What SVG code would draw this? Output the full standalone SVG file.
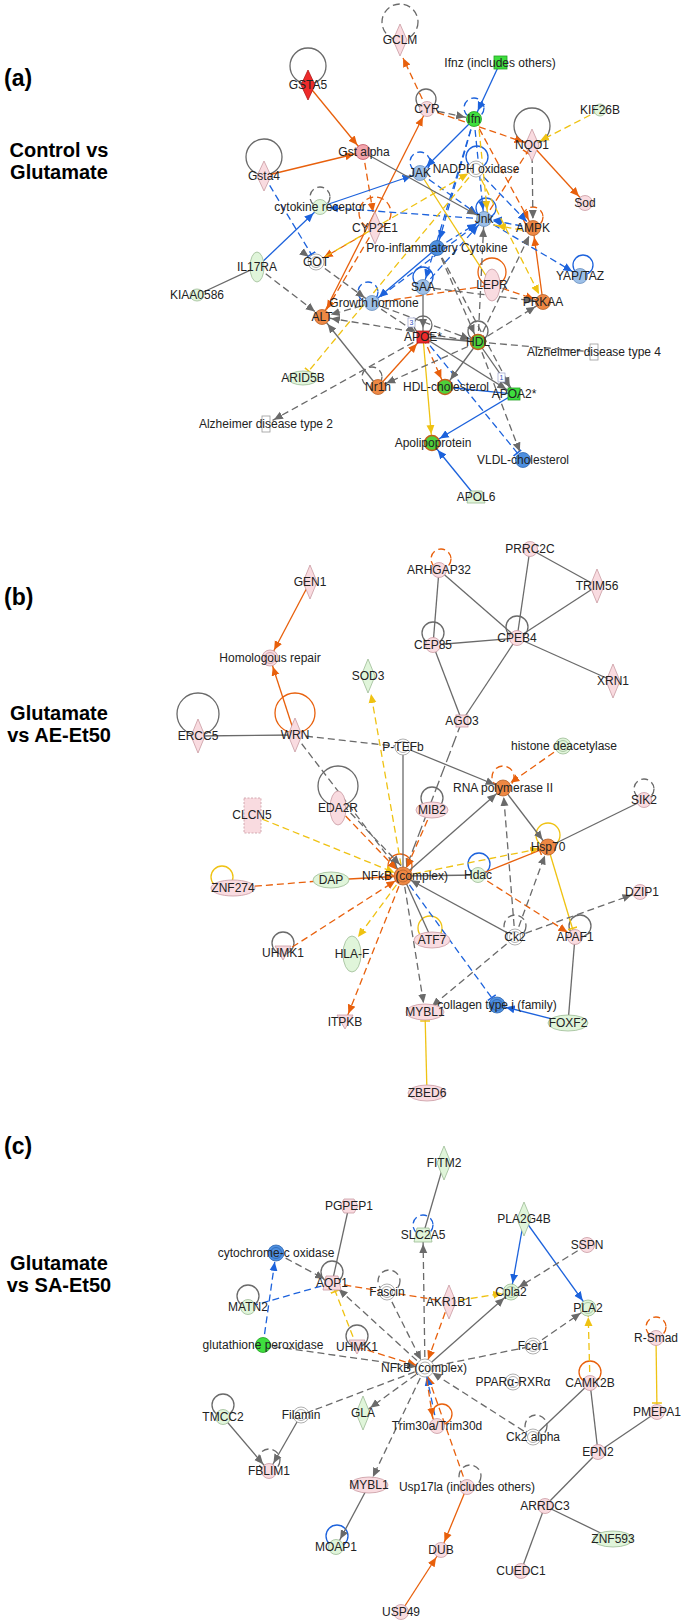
<svg xmlns="http://www.w3.org/2000/svg" width="685" height="1623" viewBox="0 0 685 1623">
<style>
.bg{fill:#fff}
#connectors path,#connectors circle{fill:none;stroke-width:1.3}
.g{stroke:#6a6a6a}.o{stroke:#e8600c}.b{stroke:#1c62dc}.y{stroke:#efc212}
.d{stroke-dasharray:7 4}
.pk{fill:#f9dbe0;stroke:#c99aa2;stroke-width:0.8}
.lg{fill:#e0f5da;stroke:#9dbb95;stroke-width:0.8}
.wh{fill:#fff;stroke:#9a9a9a;stroke-width:0.8}
.rd{fill:#ee2b2b;stroke:#b01818;stroke-width:0.8}
.gn{fill:#3ede3e;stroke:#22a022;stroke-width:0.8}
.org{fill:#ee8844;stroke:#b8622a;stroke-width:0.8}
.bu{fill:#4d8fe0;stroke:#2e66b0;stroke-width:0.8}
.lb{fill:#9dc0e8;stroke:#6a8fbf;stroke-width:0.8}
.go{fill:#4fd03a;stroke:#c0601c;stroke-width:1.6}
.gap{fill:#f2a4ac;stroke:#c05060;stroke-width:0.8}
.t{font-family:"Liberation Sans",Arial,sans-serif;font-size:12px;text-anchor:middle;fill:#222}
.h{font-family:"Liberation Sans",Arial,sans-serif;font-weight:bold;fill:#000}
.sm{font-family:"Liberation Sans",Arial,sans-serif;font-size:7px;fill:#3050c0;text-anchor:middle}
</style>
<defs>
<marker id="ag" viewBox="0 0 20 10" refX="18" refY="5" markerWidth="20" markerHeight="10" orient="auto" markerUnits="userSpaceOnUse"><path d="M0,1 L9,5 L0,9z" fill="#6a6a6a"/></marker>
<marker id="ao" viewBox="0 0 20 10" refX="18" refY="5" markerWidth="20" markerHeight="10" orient="auto" markerUnits="userSpaceOnUse"><path d="M0,1 L9,5 L0,9z" fill="#e8600c"/></marker>
<marker id="ab" viewBox="0 0 20 10" refX="18" refY="5" markerWidth="20" markerHeight="10" orient="auto" markerUnits="userSpaceOnUse"><path d="M0,1 L9,5 L0,9z" fill="#1c62dc"/></marker>
<marker id="ay" viewBox="0 0 20 10" refX="18" refY="5" markerWidth="20" markerHeight="10" orient="auto" markerUnits="userSpaceOnUse"><path d="M0,1 L9,5 L0,9z" fill="#efc212"/></marker>
<marker id="ag0" viewBox="0 0 10 10" refX="9" refY="5" markerWidth="10" markerHeight="10" orient="auto" markerUnits="userSpaceOnUse"><path d="M0,1 L9,5 L0,9z" fill="#6a6a6a"/></marker>
<marker id="ao0" viewBox="0 0 10 10" refX="9" refY="5" markerWidth="10" markerHeight="10" orient="auto" markerUnits="userSpaceOnUse"><path d="M0,1 L9,5 L0,9z" fill="#e8600c"/></marker>
<marker id="ay0" viewBox="0 0 10 10" refX="9" refY="5" markerWidth="10" markerHeight="10" orient="auto" markerUnits="userSpaceOnUse"><path d="M0,1 L9,5 L0,9z" fill="#efc212"/></marker>
<marker id="bb" viewBox="0 0 20 10" refX="18" refY="5" markerWidth="20" markerHeight="10" orient="auto" markerUnits="userSpaceOnUse"><path d="M9,0 L9,10" stroke="#1c62dc" stroke-width="1.5"/></marker>
<marker id="bo" viewBox="0 0 20 10" refX="18" refY="5" markerWidth="20" markerHeight="10" orient="auto" markerUnits="userSpaceOnUse"><path d="M9,0 L9,10" stroke="#e8600c" stroke-width="1.5"/></marker>
<marker id="by" viewBox="0 0 20 10" refX="18" refY="5" markerWidth="20" markerHeight="10" orient="auto" markerUnits="userSpaceOnUse"><path d="M9,0 L9,10" stroke="#efc212" stroke-width="1.5"/></marker>
</defs>
<rect class="bg" x="0" y="0" width="685" height="1623"/>

<g id="panel-labels">
<text class="h" x="4" y="86" font-size="23">(a)</text>
<text class="h" x="59" y="157" font-size="20" text-anchor="middle">Control vs</text>
<text class="h" x="59" y="179" font-size="20" text-anchor="middle">Glutamate</text>
<text class="h" x="4" y="605" font-size="23">(b)</text>
<text class="h" x="59" y="720" font-size="20" text-anchor="middle">Glutamate</text>
<text class="h" x="59" y="742" font-size="20" text-anchor="middle">vs AE-Et50</text>
<text class="h" x="4" y="1154" font-size="23">(c)</text>
<text class="h" x="59" y="1270" font-size="20" text-anchor="middle">Glutamate</text>
<text class="h" x="59" y="1292" font-size="20" text-anchor="middle">vs SA-Et50</text>
</g>

<g id="connectors">
<circle cx="308" cy="66" r="18" class="g"/>
<circle cx="264" cy="157" r="18" class="g"/>
<circle cx="320" cy="197" r="10" class="g d"/>
<circle cx="375" cy="213" r="16" class="o d"/>
<circle cx="400" cy="22" r="18" class="g d"/>
<circle cx="426" cy="99" r="10" class="g"/>
<circle cx="474" cy="108" r="10" class="b d"/>
<circle cx="532" cy="126" r="18" class="g"/>
<circle cx="420" cy="162" r="10" class="b d"/>
<circle cx="477" cy="157" r="11" class="b"/>
<circle cx="486" cy="208" r="10" class="b"/>
<circle cx="533" cy="217" r="10" class="o d"/>
<circle cx="583" cy="265" r="10" class="b"/>
<circle cx="368" cy="292" r="10" class="b d"/>
<circle cx="423" cy="277" r="10" class="b"/>
<circle cx="492" cy="272" r="14" class="o"/>
<circle cx="478" cy="331" r="10" class="g"/>
<circle cx="372" cy="377" r="10" class="g d"/>
<circle cx="423" cy="325" r="9" class="g"/>
<path class="o" d="M308,85 L363,152" marker-end="url(#ao)"/>
<path class="o" d="M264,176 L363,152" marker-end="url(#ao)"/>
<path class="o" d="M322,317 L427,109" marker-end="url(#ao)"/>
<path class="o" d="M532,145 L585,203" marker-end="url(#ao)"/>
<path class="o" d="M543,302 L533,228" marker-end="url(#ao)"/>
<path class="o" d="M378,387 L423,337" marker-end="url(#ao)"/>
<path class="o d" d="M427,109 L403,58" marker-end="url(#ao0)"/>
<path class="o d" d="M427,109 L532,145" marker-end="url(#ao)"/>
<path class="o d" d="M474,119 L533,228" marker-end="url(#ao)"/>
<path class="o d" d="M363,152 L373,212" marker-end="url(#ao0)"/>
<path class="o d" d="M375,228 L316,262" marker-end="url(#ao)"/>
<path class="o d" d="M375,228 L322,317" marker-end="url(#ao)"/>
<path class="o d" d="M372,303 L492,285"/>
<path class="o d" d="M492,285 L543,302" marker-end="url(#ao)"/>
<path class="o d" d="M423,337 L445,387" marker-end="url(#ao)"/>
<path class="o d" d="M484,219 L532,145" marker-end="url(#bo)"/>
<path class="b" d="M500,63 L474,119" marker-end="url(#ab)"/>
<path class="b" d="M474,119 L420,173" marker-end="url(#ab)"/>
<path class="b" d="M320,207 L420,173" marker-end="url(#ab)"/>
<path class="b" d="M257,267 L320,207" marker-end="url(#ab)"/>
<path class="b" d="M514,394 L432,443" marker-end="url(#ab)"/>
<path class="b" d="M476,497 L432,443" marker-end="url(#ab)"/>
<path class="b" d="M514,394 L445,387"/>
<path class="b" d="M437,248 L372,303" marker-end="url(#ab)"/>
<path class="b d" d="M264,176 L316,262" marker-end="url(#bb)"/>
<path class="b d" d="M484,219 L320,207" marker-end="url(#ab)" marker-start="url(#ab)"/>
<path class="b d" d="M474,119 L484,219" marker-end="url(#ab)"/>
<path class="b d" d="M474,119 L437,248" marker-end="url(#ab)"/>
<path class="b d" d="M474,119 L423,287" marker-end="url(#ab)"/>
<path class="b d" d="M420,173 L484,219" marker-end="url(#ab)"/>
<path class="b d" d="M476,169 L533,228" marker-end="url(#ab)"/>
<path class="b d" d="M484,219 L580,276" marker-end="url(#ab)"/>
<path class="b d" d="M533,228 L484,219" marker-end="url(#ab)"/>
<path class="b d" d="M423,337 L523,460" marker-end="url(#bb)"/>
<path class="b d" d="M437,248 L484,219" marker-end="url(#ab)"/>
<path class="b d" d="M423,287 L484,219" marker-end="url(#ab)"/>
<path class="b d" d="M372,303 L484,219" marker-end="url(#ab)"/>
<path class="y d" d="M600,110 L532,145" marker-end="url(#ay)"/>
<path class="y d" d="M478,119 L488,219" marker-end="url(#ay)"/>
<path class="y d" d="M476,169 L543,302" marker-end="url(#ay)"/>
<path class="y d" d="M476,169 L303,378" marker-end="url(#by)"/>
<path class="y d" d="M316,262 L476,169" marker-end="url(#ay)"/>
<path class="y d" d="M533,232 L488,224" marker-end="url(#ay)"/>
<path class="y" d="M423,337 L432,443" marker-end="url(#ay)"/>
<path class="y" d="M420,173 L492,285"/>
<path class="g" d="M363,152 L484,219" marker-end="url(#ag)"/>
<path class="g" d="M257,267 L197,295"/>
<path class="g" d="M423,287 L423,337" marker-end="url(#ag)"/>
<path class="g" d="M423,337 L478,342" stroke-width="2"/>
<path class="g" d="M423,337 L514,394" marker-end="url(#ag)"/>
<path class="g" d="M478,342 L514,394" marker-end="url(#ag)"/>
<path class="g" d="M478,342 L445,387" marker-end="url(#ag)"/>
<path class="g" d="M378,387 L322,317" marker-end="url(#ag)"/>
<path class="g d" d="M427,109 L474,119" marker-end="url(#ag)"/>
<path class="g d" d="M532,145 L533,228" marker-end="url(#ag)"/>
<path class="g d" d="M257,267 L322,317" marker-end="url(#ag)"/>
<path class="g d" d="M316,262 L372,303" marker-end="url(#ag)" marker-start="url(#ag)"/>
<path class="g d" d="M372,303 L322,317" marker-end="url(#ag)"/>
<path class="g d" d="M478,342 L322,317" marker-end="url(#ag)"/>
<path class="g d" d="M423,337 L266,424" marker-end="url(#ag)"/>
<path class="g d" d="M478,342 L594,352" stroke-dasharray="11 5"/>
<path class="g d" d="M478,342 L543,302" marker-end="url(#ag)"/>
<path class="g d" d="M372,303 L478,342" marker-end="url(#ag)"/>
<path class="g d" d="M437,248 L478,342" marker-end="url(#ag)"/>
<path class="g d" d="M478,342 L523,460" marker-end="url(#ag)"/>
<path class="g d" d="M478,342 L378,387" marker-end="url(#ag)"/>
<path class="g d" d="M423,287 L543,302" marker-end="url(#ag)"/>
<path class="g d" d="M437,248 L514,394" marker-end="url(#ag)"/>
<path class="g d" d="M478,342 L484,219" marker-end="url(#ag)"/>
<path class="g d" d="M478,342 L533,228" marker-end="url(#ag)"/>
<path class="g d" d="M372,303 L423,337" marker-end="url(#ag)"/>

<circle cx="441" cy="559" r="10" class="o d"/>
<circle cx="433" cy="633" r="11" class="g"/>
<circle cx="517" cy="627" r="11" class="g"/>
<circle cx="198" cy="714" r="21" class="g"/>
<circle cx="295" cy="713" r="20" class="o"/>
<circle cx="338" cy="786" r="20" class="g"/>
<circle cx="503" cy="777" r="11" class="o d"/>
<circle cx="432" cy="798" r="11" class="g"/>
<circle cx="644" cy="789" r="10" class="g d"/>
<circle cx="548" cy="835" r="12" class="y"/>
<circle cx="479" cy="864" r="11" class="b"/>
<circle cx="222" cy="877" r="11" class="y"/>
<circle cx="400" cy="866" r="12" class="o"/>
<circle cx="430" cy="928" r="12" class="y"/>
<circle cx="515" cy="926" r="11" class="g d"/>
<circle cx="580" cy="926" r="11" class="g"/>
<circle cx="283" cy="943" r="11" class="g"/>
<path class="o" d="M310,582 L270,658" marker-end="url(#ao)"/>
<path class="o" d="M295,735 L270,658" marker-end="url(#ao)"/>
<path class="g" d="M198,736 L295,735"/>
<path class="g d" d="M295,735 L403,747"/>
<path class="g d" d="M295,735 L403,876" marker-end="url(#ag)"/>
<path class="y d" d="M403,876 L371,694" marker-end="url(#ay0)"/>
<path class="g" d="M439,570 L433,645"/>
<path class="g" d="M439,570 L517,638"/>
<path class="g" d="M530,549 L517,638"/>
<path class="g" d="M530,549 L597,586"/>
<path class="g" d="M597,586 L517,638"/>
<path class="g" d="M433,645 L517,638"/>
<path class="g" d="M517,638 L613,681"/>
<path class="g" d="M433,645 L462,721"/>
<path class="g" d="M517,638 L462,721"/>
<path class="g" d="M462,721 L403,876" stroke-dasharray="12 4" marker-end="url(#ag)"/>
<path class="g" d="M403,747 L503,788" marker-end="url(#ag)"/>
<path class="g" d="M403,747 L403,876"/>
<path class="o d" d="M563,746 L503,788" marker-end="url(#ao)"/>
<path class="g" d="M403,876 L503,788" marker-end="url(#ag)"/>
<path class="g d" d="M515,937 L503,788" marker-end="url(#ag)"/>
<path class="g" d="M503,788 L548,847" marker-end="url(#ag)"/>
<path class="g" d="M548,847 L644,800"/>
<path class="y d" d="M403,876 L548,847" marker-end="url(#ay)"/>
<path class="o" d="M478,875 L548,847" marker-end="url(#bo)"/>
<path class="o d" d="M478,875 L575,937" marker-end="url(#ao)"/>
<path class="g" d="M403,876 L478,875"/>
<path class="y" d="M548,847 L575,937" marker-end="url(#by)"/>
<path class="g d" d="M515,937 L548,847" marker-end="url(#ag)"/>
<path class="g" d="M515,937 L403,876" marker-end="url(#ag)"/>
<path class="g d" d="M515,937 L640,892" marker-end="url(#ag)"/>
<path class="g d" d="M515,937 L425,1012" marker-end="url(#ag)"/>
<path class="g d" d="M403,876 L425,1012" marker-end="url(#ag)"/>
<path class="g" d="M403,876 L432,940"/>
<path class="b d" d="M403,876 L497,1005" marker-end="url(#bb)"/>
<path class="b" d="M568,1023 L497,1005" marker-end="url(#ab)"/>
<path class="g" d="M575,937 L568,1023"/>
<path class="y" d="M427,1093 L425,1012" marker-end="url(#by)"/>
<path class="o d" d="M432,810 L403,876" marker-end="url(#ao)"/>
<path class="o d" d="M338,808 L403,876" marker-end="url(#ao)"/>
<path class="g d" d="M343,805 L406,871" marker-end="url(#ag)"/>
<path class="y d" d="M252,815 L403,876" marker-end="url(#ay)"/>
<path class="o d" d="M233,888 L331,880"/>
<path class="o" d="M331,880 L403,876" marker-end="url(#ao)"/>
<path class="o d" d="M283,953 L403,876" marker-end="url(#ao)"/>
<path class="y d" d="M403,876 L358,937" marker-end="url(#ay0)"/>
<path class="o d" d="M403,876 L345,1022" marker-end="url(#ao)"/>

<circle cx="423" cy="1225" r="10" class="b d"/>
<circle cx="332" cy="1272" r="11" class="g"/>
<circle cx="389" cy="1281" r="11" class="g d"/>
<circle cx="248" cy="1296" r="11" class="g"/>
<circle cx="357" cy="1336" r="11" class="g"/>
<circle cx="656" cy="1327" r="10" class="o d"/>
<circle cx="590" cy="1372" r="11" class="o"/>
<circle cx="223" cy="1405" r="11" class="g"/>
<circle cx="442" cy="1414" r="10" class="o"/>
<circle cx="536" cy="1426" r="11" class="g d"/>
<circle cx="269" cy="1460" r="11" class="g d"/>
<circle cx="470" cy="1476" r="11" class="g d"/>
<circle cx="337" cy="1536" r="11" class="b"/>
<path class="g" d="M444,1163 L423,1235"/>
<path class="g d" d="M425,1368 L423,1235" marker-end="url(#ag)"/>
<path class="g" d="M349,1206 L332,1283"/>
<path class="g d" d="M276,1253 L332,1283" marker-end="url(#ag)"/>
<path class="b d" d="M263,1345 L276,1253" marker-end="url(#ab)"/>
<path class="b d" d="M332,1283 L248,1307"/>
<path class="o d" d="M449,1302 L332,1283"/>
<path class="y d" d="M357,1347 L332,1283" marker-end="url(#by)"/>
<path class="g d" d="M425,1368 L332,1283" marker-end="url(#ag)"/>
<path class="o d" d="M357,1347 L425,1368" marker-end="url(#ao)"/>
<path class="o d" d="M449,1302 L425,1368" marker-end="url(#ao)"/>
<path class="g d" d="M263,1345 L425,1368" marker-end="url(#ag)"/>
<path class="g d" d="M387,1292 L425,1368" marker-end="url(#ag)"/>
<path class="y d" d="M449,1302 L511,1292" marker-end="url(#ay)"/>
<path class="g" d="M425,1368 L511,1292" marker-end="url(#ag)"/>
<path class="b" d="M524,1219 L511,1292" marker-end="url(#ab)"/>
<path class="b" d="M524,1219 L588,1308" marker-end="url(#ab)"/>
<path class="g d" d="M587,1245 L511,1292" marker-end="url(#ag)"/>
<path class="g d" d="M533,1346 L588,1308" marker-end="url(#ag)"/>
<path class="g d" d="M425,1368 L533,1346"/>
<path class="y d" d="M590,1383 L588,1308" marker-end="url(#ay)"/>
<path class="y" d="M656,1338 L657,1412" marker-end="url(#by)"/>
<path class="g" d="M657,1412 L598,1452"/>
<path class="g" d="M590,1383 L598,1452"/>
<path class="g" d="M590,1383 L533,1437"/>
<path class="g d" d="M533,1437 L425,1368" marker-end="url(#ag)"/>
<path class="g" d="M598,1452 L545,1506"/>
<path class="g" d="M545,1506 L613,1539"/>
<path class="g" d="M545,1506 L521,1571"/>
<path class="o" d="M467,1487 L441,1550" marker-end="url(#ao)"/>
<path class="o" d="M401,1612 L441,1550" marker-end="url(#ao)"/>
<path class="o d" d="M467,1487 L425,1368" marker-end="url(#ao)"/>
<path class="b d" d="M437,1426 L425,1368" marker-end="url(#ab)"/>
<path class="o d" d="M425,1368 L434,1426" marker-end="url(#ao)"/>
<path class="g d" d="M425,1368 L363,1413" marker-end="url(#ag)"/>
<path class="g d" d="M425,1368 L301,1415"/>
<path class="g d" d="M425,1368 L369,1485" marker-end="url(#ag)"/>
<path class="g" d="M369,1485 L336,1547" marker-end="url(#ag)"/>
<path class="g" d="M223,1417 L269,1471" marker-end="url(#ag)"/>
<path class="g" d="M301,1415 L269,1471" marker-end="url(#ag)"/>
</g>

<g id="nodes">
<g id="a-GSTA5"><path class="rd" d="M308,70 L315,85 L308,100 L301,85z"/><text class="t" x="308" y="89">GSTA5</text></g>
<g id="a-Gstalpha"><circle class="gap" cx="363" cy="152" r="7.5"/><text class="t" x="364" y="156">Gst alpha</text></g>
<g id="a-Gsta4"><path class="pk" d="M264,161 L271,176 L264,191 L257,176z"/><text class="t" x="264" y="180">Gsta4</text></g>
<g id="a-cytrec"><circle class="lg" cx="320" cy="207" r="7.5"/><text class="t" x="320" y="211">cytokine receptor</text></g>
<g id="a-CYP2E1"><path class="pk" d="M375,212 L382,228 L375,244 L368,228z"/><text class="t" x="375" y="232">CYP2E1</text></g>
<g id="a-GCLM"><path class="pk" d="M400,24 L407,40 L400,56 L393,40z"/><text class="t" x="400" y="44">GCLM</text></g>
<g id="a-Ifnz"><rect class="gn" x="494" y="56" width="13" height="13"/><text class="t" x="500" y="67">Ifnz (includes others)</text></g>
<g id="a-CYR"><circle class="pk" cx="427" cy="109" r="7.5"/><text class="t" x="427" y="113">CYR</text></g>
<g id="a-Ifn"><circle class="gn" cx="474" cy="119" r="7.5"/><text class="t" x="474" y="123">Ifn</text></g>
<g id="a-NQO1"><path class="pk" d="M532,129 L539,145 L532,161 L525,145z"/><text class="t" x="532" y="149">NQO1</text></g>
<g id="a-KIF26B"><circle class="lg" cx="600" cy="110" r="6"/><text class="t" x="600" y="114">KIF26B</text></g>
<g id="a-JAK"><circle class="lb" cx="420" cy="173" r="7.5"/><text class="t" x="420" y="177">JAK</text></g>
<g id="a-NADPH"><circle class="wh" cx="476" cy="169" r="8"/><circle class="wh" cx="476" cy="169" r="5.5"/><text class="t" x="476" y="173">NADPH oxidase</text></g>
<g id="a-Sod"><circle class="pk" cx="585" cy="203" r="7.5"/><text class="t" x="585" y="207">Sod</text></g>
<g id="a-Jnk"><circle class="lb" cx="484" cy="219" r="7.5"/><text class="t" x="484" y="223">Jnk</text></g>
<g id="a-AMPK"><circle class="org" cx="533" cy="228" r="7.5"/><text class="t" x="533" y="232">AMPK</text></g>
<g id="a-YAPTAZ"><circle class="lb" cx="580" cy="276" r="7.5"/><text class="t" x="580" y="280">YAP/TAZ</text></g>
<g id="a-ProInf"><circle class="bu" cx="437" cy="248" r="7.5"/><text class="t" x="437" y="252">Pro-inflammatory Cytokine</text></g>
<g id="a-IL17RA"><ellipse class="lg" cx="257" cy="267" rx="7" ry="15"/><text class="t" x="257" y="271">IL17RA</text></g>
<g id="a-KIAA0586"><ellipse class="lg" cx="197" cy="295" rx="7" ry="6"/><text class="t" x="197" y="299">KIAA0586</text></g>
<g id="a-GOT"><circle class="wh" cx="316" cy="262" r="8"/><circle class="wh" cx="316" cy="262" r="5.5"/><text class="t" x="316" y="266">GOT</text></g>
<g id="a-ALT"><circle class="org" cx="322" cy="317" r="7.5"/><text class="t" x="322" y="321">ALT</text></g>
<g id="a-GH"><circle class="lb" cx="372" cy="303" r="7.5"/><text class="t" x="374" y="307">Growth hormone</text></g>
<g id="a-SAA"><circle class="lb" cx="423" cy="287" r="7.5"/><text class="t" x="423" y="291">SAA</text></g>
<g id="a-LEPR"><ellipse class="pk" cx="492" cy="285" rx="8" ry="16"/><text class="t" x="492" y="289">LEPR</text></g>
<g id="a-PRKAA"><circle class="org" cx="543" cy="302" r="7.5"/><text class="t" x="543" y="306">PRKAA</text></g>
<g id="a-APOE"><rect class="rd" x="417" y="331" width="12" height="12"/><rect x="408" y="318" width="7" height="9" fill="#fff" stroke="#8890c0" stroke-width="0.6"/><text class="sm" x="411.5" y="325">3</text><text class="t" x="423" y="341">APOE*</text></g>
<g id="a-HDL"><circle class="go" cx="478" cy="342" r="7.5"/><text class="t" x="478" y="346">HDL</text></g>
<g id="a-AD4"><rect class="wh" x="590" y="344" width="8" height="16"/><text class="t" x="594" y="356">Alzheimer disease type 4</text></g>
<g id="a-ARID5B"><ellipse class="lg" cx="303" cy="378" rx="15" ry="7"/><text class="t" x="303" y="382">ARID5B</text></g>
<g id="a-Nr1h"><circle class="org" cx="378" cy="387" r="7.5"/><text class="t" x="378" y="391">Nr1h</text></g>
<g id="a-HDLc"><circle class="go" cx="445" cy="387" r="7.5"/><text class="t" x="446" y="391">HDL-cholesterol</text></g>
<g id="a-APOA2"><rect class="gn" x="508" y="388" width="12" height="12"/><rect x="498" y="373" width="7" height="9" fill="#fff" stroke="#8890c0" stroke-width="0.6"/><text class="sm" x="501.5" y="380">1</text><text class="t" x="514" y="398">APOA2*</text></g>
<g id="a-AD2"><rect class="wh" x="262" y="416" width="8" height="16"/><text class="t" x="266" y="428">Alzheimer disease type 2</text></g>
<g id="a-Apolipo"><circle class="go" cx="432" cy="443" r="7.5"/><text class="t" x="433" y="447">Apolipoprotein</text></g>
<g id="a-VLDL"><circle class="bu" cx="523" cy="460" r="7.5"/><text class="t" x="523" y="464">VLDL-cholesterol</text></g>
<g id="a-APOL6"><path class="lg" d="M470,491 L482,491 L485,503 L467,503z"/><text class="t" x="476" y="501">APOL6</text></g>

<g id="b-GEN1"><path class="pk" d="M310,565 L317,582 L310,599 L303,582z"/><text class="t" x="310" y="586">GEN1</text></g>
<g id="b-ARHGAP32"><circle class="pk" cx="439" cy="570" r="7.5"/><text class="t" x="439" y="574">ARHGAP32</text></g>
<g id="b-PRRC2C"><circle class="pk" cx="530" cy="549" r="7.5"/><text class="t" x="530" y="553">PRRC2C</text></g>
<g id="b-TRIM56"><path class="pk" d="M597,569 L604,586 L597,603 L590,586z"/><text class="t" x="597" y="590">TRIM56</text></g>
<g id="b-HomRep"><circle class="pk" cx="270" cy="658" r="8"/><circle class="pk" cx="270" cy="658" r="5.5"/><text class="t" x="270" y="662">Homologous repair</text></g>
<g id="b-CEP85"><circle class="pk" cx="433" cy="645" r="7.5"/><text class="t" x="433" y="649">CEP85</text></g>
<g id="b-CPEB4"><circle class="pk" cx="517" cy="638" r="7.5"/><text class="t" x="517" y="642">CPEB4</text></g>
<g id="b-SOD3"><path class="lg" d="M368,659 L375,676 L368,693 L361,676z"/><text class="t" x="368" y="680">SOD3</text></g>
<g id="b-XRN1"><path class="pk" d="M613,664 L620,681 L613,698 L606,681z"/><text class="t" x="613" y="685">XRN1</text></g>
<g id="b-AGO3"><rect class="pk" x="456" y="715" width="12" height="12"/><text class="t" x="462" y="725">AGO3</text></g>
<g id="b-ERCC5"><path class="pk" d="M198,719 L205,736 L198,753 L191,736z"/><text class="t" x="198" y="740">ERCC5</text></g>
<g id="b-WRN"><path class="pk" d="M295,718 L302,735 L295,752 L288,735z"/><text class="t" x="295" y="739">WRN</text></g>
<g id="b-PTEFb"><circle class="wh" cx="403" cy="747" r="8"/><circle class="wh" cx="403" cy="747" r="5.5"/><text class="t" x="403" y="751">P-TEFb</text></g>
<g id="b-HDAC"><circle class="lg" cx="563" cy="746" r="8"/><circle class="lg" cx="563" cy="746" r="5.5"/><text class="t" x="564" y="750">histone deacetylase</text></g>
<g id="b-EDA2R"><ellipse class="pk" cx="338" cy="808" rx="8" ry="17"/><text class="t" x="338" y="812">EDA2R</text></g>
<g id="b-RNApol"><circle class="org" cx="503" cy="788" r="8"/><text class="t" x="503" y="792">RNA polymerase II</text></g>
<g id="b-MIB2"><ellipse class="pk" cx="432" cy="810" rx="16" ry="8"/><text class="t" x="432" y="814">MIB2</text></g>
<g id="b-SIK2"><circle class="pk" cx="644" cy="800" r="7.5"/><text class="t" x="644" y="804">SIK2</text></g>
<g id="b-CLCN5"><rect class="pk" x="244" y="798" width="17" height="35" stroke-dasharray="2 1.5"/><text class="t" x="252" y="819">CLCN5</text></g>
<g id="b-Hsp70"><circle class="org" cx="548" cy="847" r="8"/><text class="t" x="548" y="851">Hsp70</text></g>
<g id="b-Hdac"><circle class="lg" cx="478" cy="875" r="7.5"/><text class="t" x="478" y="879">Hdac</text></g>
<g id="b-ZNF274"><ellipse class="pk" cx="233" cy="888" rx="22" ry="8"/><text class="t" x="233" y="892">ZNF274</text></g>
<g id="b-DAP"><ellipse class="lg" cx="331" cy="880" rx="18" ry="8"/><text class="t" x="331" y="884">DAP</text></g>
<g id="b-NFkB"><circle class="org" cx="403" cy="876" r="9"/><circle class="org" cx="403" cy="876" r="6"/><text class="t" x="405" y="880">NFkB (complex)</text></g>
<g id="b-DZIP1"><circle class="pk" cx="640" cy="892" r="7.5"/><text class="t" x="642" y="896">DZIP1</text></g>
<g id="b-ATF7"><ellipse class="pk" cx="432" cy="940" rx="18" ry="8"/><text class="t" x="432" y="944">ATF7</text></g>
<g id="b-Ck2"><circle class="wh" cx="515" cy="937" r="8"/><circle class="wh" cx="515" cy="937" r="5.5"/><text class="t" x="515" y="941">Ck2</text></g>
<g id="b-APAF1"><circle class="pk" cx="575" cy="937" r="7.5"/><text class="t" x="575" y="941">APAF1</text></g>
<g id="b-UHMK1"><path class="pk" d="M275,946 L291,946 L283,960z"/><text class="t" x="283" y="957">UHMK1</text></g>
<g id="b-HLAF"><ellipse class="lg" cx="352" cy="954" rx="9" ry="18"/><text class="t" x="352" y="958">HLA-F</text></g>
<g id="b-collagen"><circle class="bu" cx="497" cy="1005" r="8"/><circle class="bu" cx="497" cy="1005" r="5.5"/><text class="t" x="497" y="1009">collagen type i (family)</text></g>
<g id="b-MYBL1"><ellipse class="pk" cx="425" cy="1012" rx="19" ry="8"/><text class="t" x="425" y="1016">MYBL1</text></g>
<g id="b-FOXF2"><ellipse class="lg" cx="568" cy="1023" rx="20" ry="8"/><text class="t" x="568" y="1027">FOXF2</text></g>
<g id="b-ITPKB"><path class="pk" d="M337,1015 L353,1015 L345,1029z"/><text class="t" x="345" y="1026">ITPKB</text></g>
<g id="b-ZBED6"><ellipse class="pk" cx="427" cy="1093" rx="19" ry="8"/><text class="t" x="427" y="1097">ZBED6</text></g>

<g id="c-FITM2"><path class="lg" d="M444,1146 L451,1163 L444,1180 L437,1163z"/><text class="t" x="444" y="1167">FITM2</text></g>
<g id="c-PGPEP1"><path class="pk" d="M340,1206 L344,1199 L354,1199 L358,1206 L354,1213 L344,1213z"/><text class="t" x="349" y="1210">PGPEP1</text></g>
<g id="c-PLA2G4B"><path class="lg" d="M524,1202 L531,1219 L524,1236 L517,1219z"/><text class="t" x="524" y="1223">PLA2G4B</text></g>
<g id="c-SLC2A5"><path class="lg" d="M417,1228 L429,1228 L432,1242 L414,1242z"/><text class="t" x="423" y="1239">SLC2A5</text></g>
<g id="c-SSPN"><circle class="pk" cx="587" cy="1245" r="7.5"/><text class="t" x="587" y="1249">SSPN</text></g>
<g id="c-cytox"><circle class="bu" cx="276" cy="1253" r="8"/><circle class="bu" cx="276" cy="1253" r="5.5"/><text class="t" x="276" y="1257">cytochrome-c oxidase</text></g>
<g id="c-AQP1"><path class="pk" d="M326,1276 L338,1276 L341,1290 L323,1290z"/><text class="t" x="332" y="1287">AQP1</text></g>
<g id="c-Fascin"><circle class="wh" cx="387" cy="1292" r="8"/><circle class="wh" cx="387" cy="1292" r="5.5"/><text class="t" x="387" y="1296">Fascin</text></g>
<g id="c-Cpla2"><circle class="lg" cx="511" cy="1292" r="8"/><circle class="lg" cx="511" cy="1292" r="5.5"/><text class="t" x="511" y="1296">Cpla2</text></g>
<g id="c-AKR1B1"><path class="pk" d="M449,1285 L456,1302 L449,1319 L442,1302z"/><text class="t" x="449" y="1306">AKR1B1</text></g>
<g id="c-MATN2"><circle class="lg" cx="248" cy="1307" r="7.5"/><text class="t" x="248" y="1311">MATN2</text></g>
<g id="c-PLA2"><circle class="lg" cx="588" cy="1308" r="8"/><circle class="lg" cx="588" cy="1308" r="5.5"/><text class="t" x="588" y="1312">PLA2</text></g>
<g id="c-RSmad"><circle class="pk" cx="656" cy="1338" r="7.5"/><text class="t" x="656" y="1342">R-Smad</text></g>
<g id="c-GPX"><circle class="gn" cx="263" cy="1345" r="7.5"/><text class="t" x="263" y="1349">glutathione peroxidase</text></g>
<g id="c-UHMK1"><path class="pk" d="M349,1340 L365,1340 L357,1354z"/><text class="t" x="357" y="1351">UHMK1</text></g>
<g id="c-Fcer1"><circle class="wh" cx="533" cy="1346" r="8"/><circle class="wh" cx="533" cy="1346" r="5.5"/><text class="t" x="533" y="1350">Fcer1</text></g>
<g id="c-NFkB"><circle class="wh" cx="425" cy="1368" r="9"/><circle class="wh" cx="425" cy="1368" r="6"/><text class="t" x="424" y="1372">NFkB (complex)</text></g>
<g id="c-PPAR"><circle class="wh" cx="513" cy="1382" r="8"/><circle class="wh" cx="513" cy="1382" r="5.5"/><text class="t" x="513" y="1386">PPARα-RXRα</text></g>
<g id="c-CAMK2B"><circle class="pk" cx="590" cy="1383" r="7.5"/><text class="t" x="590" y="1387">CAMK2B</text></g>
<g id="c-PMEPA1"><circle class="pk" cx="657" cy="1412" r="7.5"/><text class="t" x="657" y="1416">PMEPA1</text></g>
<g id="c-TMCC2"><circle class="lg" cx="223" cy="1417" r="7.5"/><text class="t" x="223" y="1421">TMCC2</text></g>
<g id="c-Filamin"><circle class="wh" cx="301" cy="1415" r="8"/><circle class="wh" cx="301" cy="1415" r="5.5"/><text class="t" x="301" y="1419">Filamin</text></g>
<g id="c-GLA"><path class="lg" d="M363,1396 L370,1413 L363,1430 L356,1413z"/><text class="t" x="363" y="1417">GLA</text></g>
<g id="c-Trim30"><circle class="pk" cx="437" cy="1426" r="7.5"/><text class="t" x="437" y="1430">Trim30a/Trim30d</text></g>
<g id="c-Ck2a"><circle class="wh" cx="533" cy="1437" r="8"/><circle class="wh" cx="533" cy="1437" r="5.5"/><text class="t" x="533" y="1441">Ck2 alpha</text></g>
<g id="c-EPN2"><circle class="pk" cx="598" cy="1452" r="7.5"/><text class="t" x="598" y="1456">EPN2</text></g>
<g id="c-FBLIM1"><circle class="pk" cx="269" cy="1471" r="7.5"/><text class="t" x="269" y="1475">FBLIM1</text></g>
<g id="c-MYBL1"><ellipse class="pk" cx="369" cy="1485" rx="19" ry="8"/><text class="t" x="369" y="1489">MYBL1</text></g>
<g id="c-Usp17la"><circle class="pk" cx="467" cy="1487" r="7.5"/><text class="t" x="467" y="1491">Usp17la (includes others)</text></g>
<g id="c-ARRDC3"><circle class="pk" cx="545" cy="1506" r="7.5"/><text class="t" x="545" y="1510">ARRDC3</text></g>
<g id="c-ZNF593"><ellipse class="lg" cx="613" cy="1539" rx="20" ry="8"/><text class="t" x="613" y="1543">ZNF593</text></g>
<g id="c-MOAP1"><circle class="lg" cx="336" cy="1547" r="7.5"/><text class="t" x="336" y="1551">MOAP1</text></g>
<g id="c-DUB"><circle class="pk" cx="441" cy="1550" r="7.5"/><text class="t" x="441" y="1554">DUB</text></g>
<g id="c-CUEDC1"><circle class="pk" cx="521" cy="1571" r="7.5"/><text class="t" x="521" y="1575">CUEDC1</text></g>
<g id="c-USP49"><circle class="pk" cx="401" cy="1612" r="7.5"/><text class="t" x="401" y="1616">USP49</text></g>
</g>
</svg>
